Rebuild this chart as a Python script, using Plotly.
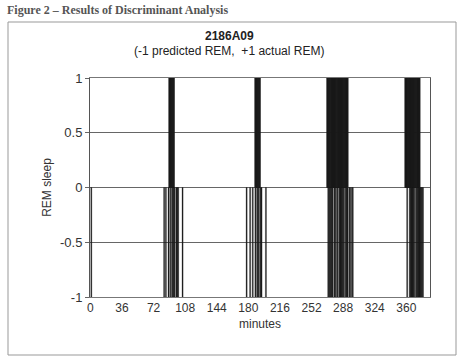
import plotly.graph_objects as go

# minutes scored as actual REM (+1)
actual_rem_minutes = (list(range(90, 96)) + list(range(188, 194)) +
                      list(range(270, 294)) + list(range(359, 376)))
# minutes scored as predicted REM (-1)
predicted_rem_minutes = ([1, 84, 86, 89, 91, 93, 94, 95, 96, 98, 99, 100, 105,
                          178, 182, 185, 188, 190, 191, 192, 194, 195, 200] +
                         [271, 272, 273, 274, 275, 276, 278, 279, 281, 282,
                          284, 285, 286, 287, 288, 289, 291, 292, 293, 295, 296,
                          298, 299] +
                         [361, 364, 365, 366, 367, 368, 369, 371, 372, 373, 374,
                          375, 376, 377, 378, 379])
actual_value = 1
predicted_value = -1

x_ticks = [0, 36, 72, 108, 144, 180, 216, 252, 288, 324, 360]
y_ticks = [-1, -0.5, 0, 0.5, 1]

bar_color = "#1a1a1a"
font_family = "Liberation Sans, Arial, sans-serif"

fig = go.Figure()
fig.add_trace(go.Bar(x=actual_rem_minutes,
                     y=[actual_value] * len(actual_rem_minutes),
                     width=1.6, marker=dict(color=bar_color,
                                            line=dict(color=bar_color, width=0.5)),
                     showlegend=False))
fig.add_trace(go.Bar(x=predicted_rem_minutes,
                     y=[predicted_value] * len(predicted_rem_minutes),
                     width=1.2, marker=dict(color=bar_color,
                                            line=dict(color=bar_color, width=0.3)),
                     showlegend=False))

W, H = 463, 358
ml, mr, mt, mb = 90, 33, 78, 61
pw, ph = W - ml - mr, H - mt - mb


def px_x(p):
    return (p - ml) / pw


def px_y(p):
    return (H - mb - p) / ph


fig.update_layout(
    width=W, height=H,
    margin=dict(l=ml, r=mr, t=mt, b=mb),
    paper_bgcolor="white", plot_bgcolor="white",
    barmode="overlay",
    font=dict(family=font_family, size=12, color="#333333"),
    xaxis=dict(range=[-0.5, 387], tickvals=x_ticks, ticktext=[str(t) for t in x_ticks],
               showgrid=False, zeroline=False, showline=True, linecolor="#777777",
               linewidth=1, mirror=True, ticks="", tickfont=dict(size=12, color="#333333"),
               title=dict(text="minutes", font=dict(size=12, color="#333333"), standoff=5)),
    yaxis=dict(range=[-1, 1], tickvals=y_ticks, ticktext=["-1", "-0.5", "0", "0.5", "1"],
               showgrid=True, gridcolor="#666666", gridwidth=1, zeroline=False,
               showline=True, linecolor="#555555", linewidth=1, mirror=True,
               ticks="outside", ticklen=4, tickcolor="#666666",
               tickfont=dict(size=13, color="#333333"),
               title=dict(text="REM sleep", font=dict(size=12, color="#333333"), standoff=5)),
    shapes=[dict(type="rect", xref="paper", yref="paper",
                 x0=px_x(8), x1=px_x(456), y0=px_y(355), y1=px_y(22),
                 line=dict(color="#999999", width=1), fillcolor="rgba(0,0,0,0)",
                 layer="below")],
    annotations=[
        dict(text="<b>Figure 2 – Results of Discriminant Analysis</b>",
             xref="paper", yref="paper", x=px_x(5), y=px_y(10),
             xanchor="left", yanchor="middle", showarrow=False,
             font=dict(family="Liberation Serif, Times New Roman, serif", size=12,
                       color="#555555")),
        dict(text="<b>2186A09</b>", xref="paper", yref="paper",
             x=px_x(229), y=px_y(36), xanchor="center", yanchor="middle",
             showarrow=False, font=dict(size=12, color="#222222")),
        dict(text="(-1 predicted REM,  +1 actual REM)", xref="paper", yref="paper",
             x=px_x(229), y=px_y(51), xanchor="center", yanchor="middle",
             showarrow=False, font=dict(size=12, color="#222222")),
    ],
)

fig.write_html("out.html", config={"displayModeBar": False},
               post_script="document.body.style.margin='0';")
